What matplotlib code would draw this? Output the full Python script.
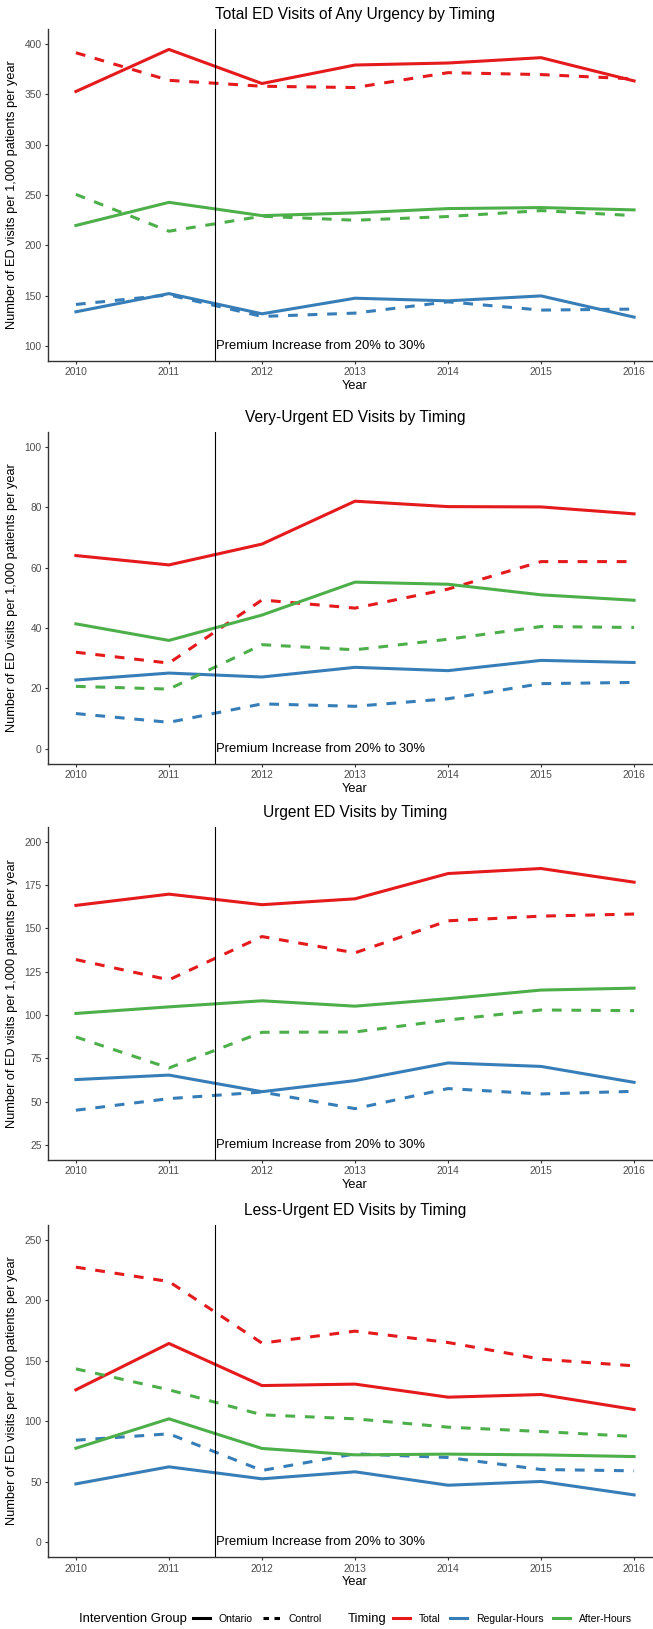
import numpy as np
import matplotlib
matplotlib.use("Agg")
import matplotlib.pyplot as plt
from matplotlib.lines import Line2D

plt.rcParams['font.family'] = ['Liberation Sans', 'DejaVu Sans']

years = [2010, 2011, 2012, 2013, 2014, 2015, 2016]

# panel 1: total ED visits of any urgency
any_total_on = [352.9, 394.7, 360.8, 379.2, 381.2, 386.5, 363.4]
any_total_ct = [391.4, 364.0, 358.1, 356.8, 371.6, 369.7, 365.4]
any_after_on = [219.7, 242.7, 229.5, 232.2, 236.5, 237.5, 235.2]
any_after_ct = [250.6, 214.0, 228.9, 224.9, 228.6, 234.5, 229.5]
any_reg_on = [133.9, 152.0, 131.9, 147.4, 144.8, 149.7, 128.6]
any_reg_ct = [141.2, 150.7, 129.3, 132.6, 143.8, 135.6, 136.6]

# panel 2: very-urgent
vu_total_on = [64.0, 60.9, 67.8, 82.0, 80.2, 80.1, 77.8]
vu_total_ct = [32.0, 28.4, 49.3, 46.6, 52.9, 62.0, 62.0]
vu_after_on = [41.4, 35.9, 44.3, 55.2, 54.5, 51.0, 49.2]
vu_after_ct = [20.7, 19.8, 34.5, 32.8, 36.3, 40.5, 40.2]
vu_reg_on = [22.8, 25.1, 23.8, 27.0, 25.9, 29.3, 28.6]
vu_reg_ct = [11.7, 8.8, 14.9, 14.1, 16.6, 21.6, 22.0]

# panel 3: urgent
u_total_on = [163.3, 169.8, 163.7, 167.1, 181.7, 184.6, 176.7]
u_total_ct = [132.0, 120.3, 145.3, 135.9, 154.4, 157.1, 158.3]
u_after_on = [100.9, 104.7, 108.2, 105.1, 109.4, 114.4, 115.5]
u_after_ct = [87.3, 69.4, 90.0, 90.2, 97.1, 102.9, 102.5]
u_reg_on = [62.7, 65.3, 55.7, 62.1, 72.3, 70.3, 61.1]
u_reg_ct = [45.0, 51.7, 55.5, 45.9, 57.5, 54.4, 55.9]

# panel 4: less-urgent
lu_total_on = [126.0, 164.3, 129.5, 130.7, 119.9, 122.1, 109.7]
lu_total_ct = [227.4, 215.5, 164.6, 174.5, 165.1, 151.3, 145.8]
lu_after_on = [77.7, 102.0, 77.5, 72.2, 72.8, 72.2, 70.8]
lu_after_ct = [143.3, 126.0, 105.3, 102.0, 95.1, 91.5, 87.4]
lu_reg_on = [48.2, 62.3, 52.4, 58.2, 47.1, 50.2, 39.1]
lu_reg_ct = [84.3, 89.6, 59.3, 73.0, 70.0, 60.1, 59.0]

titles = ["Total ED Visits of Any Urgency by Timing",
          "Very-Urgent ED Visits by Timing",
          "Urgent ED Visits by Timing",
          "Less-Urgent ED Visits by Timing"]
ylims = [(85, 415), (-5, 105), (16.25, 208.75), (-12.5, 262.5)]
yticks = [range(100, 401, 50), range(0, 101, 20), range(25, 201, 25), range(0, 251, 50)]
text_y = [100, 0, 25, 0]
panels = [
    [(any_total_on, any_total_ct), (any_reg_on, any_reg_ct), (any_after_on, any_after_ct)],
    [(vu_total_on, vu_total_ct), (vu_reg_on, vu_reg_ct), (vu_after_on, vu_after_ct)],
    [(u_total_on, u_total_ct), (u_reg_on, u_reg_ct), (u_after_on, u_after_ct)],
    [(lu_total_on, lu_total_ct), (lu_reg_on, lu_reg_ct), (lu_after_on, lu_after_ct)],
]
colors = ['#E41A1C', '#377EB8', '#4DAF4A']  # Total, Regular-Hours, After-Hours

W, H = 653, 1629
fig = plt.figure(figsize=(W / 100, H / 100), dpi=100)

# axes boxes in pixels (top, bottom) measured from top
boxes = [(29, 361), (431.7, 764), (826.7, 1160), (1224.7, 1557.3)]
left_px, right_px = 48, 662
dash = (0, (3.2, 3.2))

for i, (top, bot) in enumerate(boxes):
    ax = fig.add_axes([left_px / W, 1 - bot / H, (right_px - left_px) / W, (bot - top) / H])
    for (on, ct), c in zip(panels[i], colors):
        ax.plot(years, ct, color=c, lw=2.2, linestyle=dash, solid_capstyle='butt')
        ax.plot(years, on, color=c, lw=2.2)
    ax.axvline(2011.5, color='black', lw=0.8)
    ax.text(2011.51, text_y[i], "Premium Increase from 20% to 30%", ha='left', va='center',
            fontsize=9.4, color='black')
    ax.set_xlim(2009.7, 2016.3)
    ax.set_ylim(*ylims[i])
    ax.set_xticks(years)
    ax.set_yticks(list(yticks[i]))
    ax.set_title(titles[i], fontsize=11.2, pad=7)
    ax.set_xlabel("Year", fontsize=9.2, labelpad=2)
    ax.set_ylabel("Number of ED visits per 1,000 patients per year", fontsize=9.2, labelpad=5)
    ax.tick_params(labelsize=7.4, labelcolor='#4D4D4D', color='#333333', length=2.5, width=0.8, pad=2)
    for s in ['top', 'right']:
        ax.spines[s].set_visible(False)
    for s in ['left', 'bottom']:
        ax.spines[s].set_color('#333333')
        ax.spines[s].set_linewidth(1.0)

# legend at the bottom
ly = 1 - 1619 / H
fig.text(79 / W, ly, "Intervention Group", fontsize=9.4, va='center', ha='left')
fig.text(348 / W, ly, "Timing", fontsize=9.4, va='center', ha='left')

grp_handles = [Line2D([], [], color='black', lw=2.2),
               Line2D([], [], color='black', lw=2.2, linestyle=(0, (1.8, 1.8)))]
leg1 = fig.legend(grp_handles, ["Ontario", "Control"], loc='center left',
                  bbox_to_anchor=(193 / W, ly), ncol=2, frameon=False, fontsize=7.5,
                  handlelength=1.63, handletextpad=0.82, columnspacing=0.96,
                  borderpad=0, borderaxespad=0)
tim_handles = [Line2D([], [], color=c, lw=2.2) for c in colors]
leg2 = fig.legend(tim_handles, ["Total", "Regular-Hours", "After-Hours"], loc='center left',
                  bbox_to_anchor=(393 / W, ly), ncol=3, frameon=False, fontsize=7.5,
                  handlelength=1.63, handletextpad=0.82, columnspacing=0.96,
                  borderpad=0, borderaxespad=0)

fig.savefig("out.png", dpi=100)
